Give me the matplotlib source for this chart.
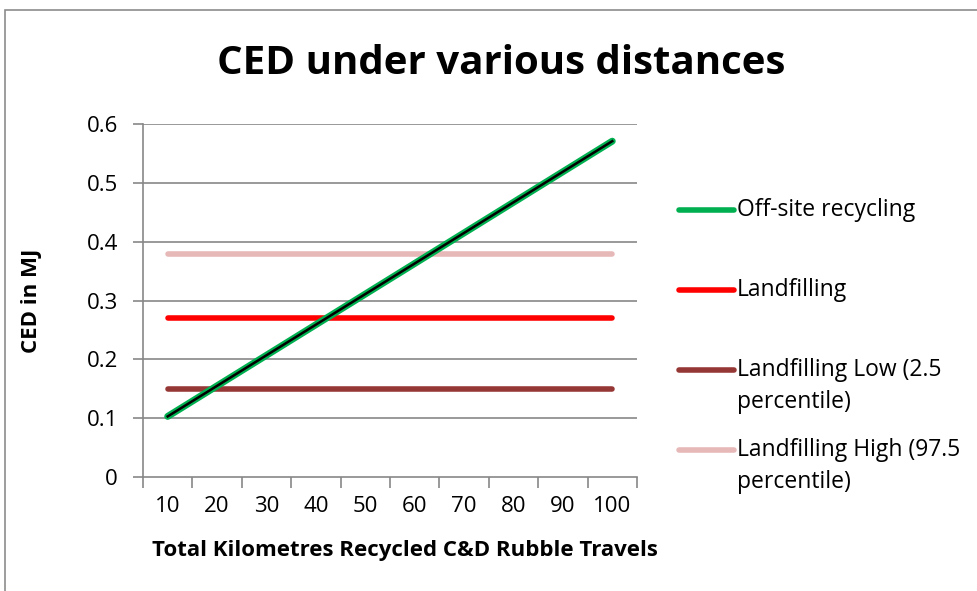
import matplotlib
matplotlib.use('Agg')
import matplotlib.pyplot as plt
from matplotlib.lines import Line2D
from matplotlib.patches import Rectangle
import numpy as np

plt.rcParams['font.family'] = ['Open Sans', 'DejaVu Sans']

distances = ['10', '20', '30', '40', '50', '60', '70', '80', '90', '100']
offsite = [0.103, 0.155, 0.207, 0.259, 0.311, 0.363, 0.415, 0.467, 0.519, 0.571]
landfill = [0.27] * 10
landfill_low = [0.15] * 10
landfill_high = [0.38] * 10
yticks = [0, 0.1, 0.2, 0.3, 0.4, 0.5, 0.6]

names = [['Off-site recycling'], ['Landfilling'],
         ['Landfilling Low (2.5', 'percentile)'],
         ['Landfilling High (97.5', 'percentile)']]
colors = ['#00B050', '#FF0000', '#953735', '#E6B9B8']

fig = plt.figure(figsize=(9.78, 5.91), dpi=100)
ax = fig.add_axes([0.1462, 0.1929, 0.6513 - 0.1462, 0.790 - 0.1929])

x = np.arange(len(distances))
grid_c = '#878787'
for v in yticks[1:]:
    ax.axhline(v, color=grid_c, lw=1.2, zorder=1)

ax.plot(x, landfill_high, color=colors[3], lw=4, solid_capstyle='round', zorder=3)
ax.plot(x, landfill, color=colors[1], lw=4, solid_capstyle='round', zorder=3)
ax.plot(x, landfill_low, color=colors[2], lw=4, solid_capstyle='round', zorder=3)
ax.plot(x, offsite, color=colors[0], lw=5, solid_capstyle='round', zorder=4)
# linear trendline through the recycling series
k, b = np.polyfit(x, offsite, 1)
ax.plot(x, k * x + b, color='black', lw=1.8, zorder=5)

ax.set_xlim(-0.5, len(distances) - 0.5)
ax.set_ylim(0, 0.6)
ax.set_yticks(yticks)
ax.set_yticklabels(['0', '0.1', '0.2', '0.3', '0.4', '0.5', '0.6'], fontsize=16)
ax.set_xticks(x)
ax.set_xticklabels(distances, fontsize=16)
ax.set_xticks(np.arange(-0.5, len(distances), 1), minor=True)
ax.tick_params(axis='x', which='major', length=0, pad=14)
ax.tick_params(axis='x', which='minor', length=8, width=1.2, color=grid_c)
ax.tick_params(axis='y', length=7, width=1.2, color=grid_c, pad=11)

for s in ['top', 'right']:
    ax.spines[s].set_visible(False)
for s in ['left', 'bottom']:
    ax.spines[s].set_color(grid_c)
    ax.spines[s].set_linewidth(1.2)

ax.set_xlabel('Total Kilometres Recycled C&D Rubble Travels', fontsize=16,
              fontweight='bold')
ax.xaxis.set_label_coords(0.53, -0.178)
ax.set_ylabel('CED in MJ', fontsize=16, fontweight='bold')
ax.yaxis.set_label_coords(-0.205, 0.50)
fig.text(0.512, 0.893, 'CED under various distances', fontsize=29,
         fontweight='bold', ha='center', va='center')

# legend drawn by hand, Excel-style
leg_y = [210, 290, 370, 450]
for lines, c, yy in zip(names, colors, leg_y):
    yf = 1 - yy / 591
    fig.add_artist(Line2D([679 / 978, 734 / 978], [yf, yf], color=c, lw=4,
                          solid_capstyle='round', transform=fig.transFigure))
    for i, t in enumerate(lines):
        fig.text(737 / 978, yf - i * 32 / 591, t, fontsize=16.5, ha='left',
                 va='center')

fig.add_artist(Rectangle((5 / 978, -0.1), 2, 1 - 10 / 591 + 0.1, fill=False,
                         edgecolor='#8c8c8c', lw=1.2, transform=fig.transFigure))

fig.savefig('out.png', dpi=100)
